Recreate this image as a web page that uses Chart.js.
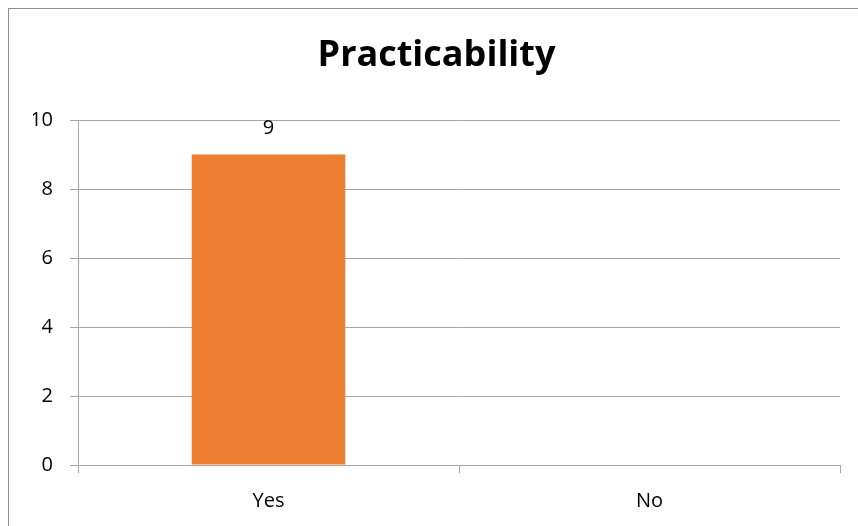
<!DOCTYPE html>
<html>
<head>
<meta charset="utf-8">
<script src="https://cdn.jsdelivr.net/npm/chart.js@4"></script>
<style>
  html, body { margin: 0; padding: 0; background: #fff; overflow: hidden; width: 858px; height: 526px; }
  #frame { position: absolute; left: 8px; top: 8px; width: 900px; height: 600px; border-left: 1px solid #8f8f8f; border-top: 1px solid #8f8f8f; }
  #wrap { position: absolute; left: 0; top: 0; width: 858px; height: 526px; }
</style>
</head>
<body>
<div id="frame"></div>
<div id="wrap"><canvas id="chart"></canvas></div>
<script>
// chart data
const categories = ['Yes', 'No']
const counts = [9, 0]
const yTicks = [0, 2, 4, 6, 8, 10]

const gridGrey = '#a6a6a6'
const fontFamily = '"Open Sans", Lato, sans-serif'

// value labels above the bars (zero values are not labelled)
const barLabels = {
	id: 'barLabels',
	afterDatasetsDraw(chart) {
		const ctx = chart.ctx
		const meta = chart.getDatasetMeta(0)
		ctx.save()
		ctx.font = '20px ' + fontFamily
		ctx.fillStyle = '#000'
		ctx.textAlign = 'center'
		ctx.textBaseline = 'middle'
		meta.data.forEach((bar, i) => {
			if (!counts[i]) return
			ctx.fillText(String(counts[i]), bar.x, bar.y - 26)
		})
		ctx.restore()
	}
}

const ctx = document.getElementById('chart').getContext('2d')
new Chart(ctx, {
	type: 'bar',
	data: {
		labels: categories,
		datasets: [{
			data: counts,
			backgroundColor: '#ed7d31',
			borderWidth: 0,
			categoryPercentage: 1,
			barPercentage: 0.403
		}]
	},
	options: {
		responsive: true,
		maintainAspectRatio: false,
		animation: false,
		// left padding keeps the title centred where the original has it
		layout: { padding: { left: 33, right: 18, top: 0, bottom: 0 } },
		plugins: {
			legend: { display: false },
			tooltip: { enabled: false },
			title: {
				display: true,
				text: 'Practicability',
				color: '#000',
				font: { family: fontFamily, size: 36, weight: 'bold', lineHeight: 1.2 },
				padding: { top: 34, bottom: 42.8 }
			}
		},
		scales: {
			x: {
				grid: { display: true, offset: true, drawOnChartArea: false, color: gridGrey, tickLength: 8 },
				border: { color: gridGrey },
				ticks: { color: '#000', padding: 16, font: { family: fontFamily, size: 20 } },
				afterFit(scale) { scale.height = 61 }
			},
			y: {
				min: 0,
				max: 10,
				afterBuildTicks(scale) { scale.ticks = yTicks.map(v => ({ value: v })) },
				grid: { color: gridGrey, tickLength: 8 },
				border: { color: gridGrey },
				ticks: { color: '#000', padding: 17, font: { family: fontFamily, size: 20 } },
				afterFit(scale) { scale.width = 45 }
			}
		}
	},
	plugins: [barLabels]
})
</script>
</body>
</html>
